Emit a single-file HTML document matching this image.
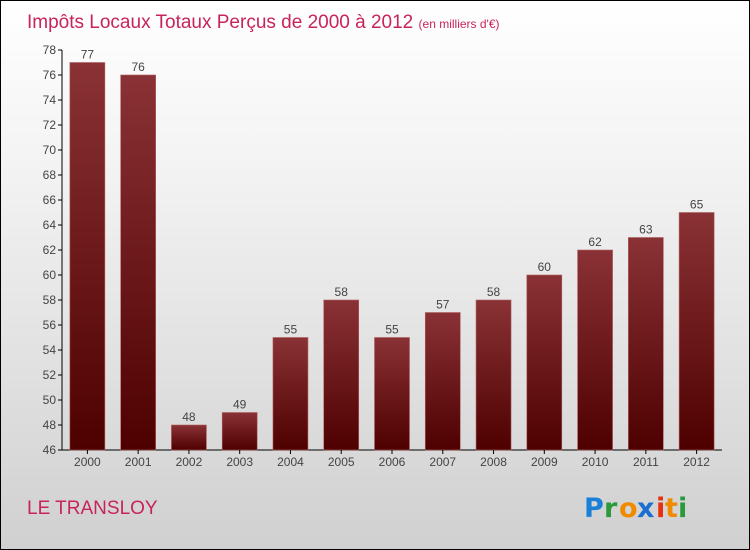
<!DOCTYPE html>
<html><head><meta charset="utf-8"><style>
body{margin:0}
#c{position:relative;width:748px;height:548px;border:1px solid #000;background:linear-gradient(#fff,#f3f3f3 30%,#d0d0d0);font-family:"Liberation Sans",sans-serif;overflow:hidden}
</style></head><body>
<div id="c">
<svg width="748" height="548">
<defs><linearGradient id="bg" x1="0" y1="0" x2="0" y2="1"><stop offset="0" stop-color="#8a3236"/><stop offset="1" stop-color="#4e0000"/></linearGradient></defs>
<text x="26" y="27" font-size="19" fill="#c8245a">Impôts Locaux Totaux Perçus de 2000 à 2012 <tspan font-size="12">(en milliers d'€)</tspan></text>
<g id="plot"></g>
<text x="26" y="513" font-size="19" fill="#c8245a">LE TRANSLOY</text>
<g font-size="27" font-weight="bold" font-family="'DejaVu Sans',sans-serif">
<text x="583" y="516" fill="#1a7fd6">P</text><text x="603" y="516" fill="#2a9a3a">r</text><text x="618" y="516" fill="#f08a00">o</text><text x="636" y="516" fill="#1a6fd0">x</text><text x="655" y="516" fill="#e83010">i</text><text x="664" y="516" fill="#f08a00">t</text><text x="677" y="516" fill="#2a9a3a">i</text>
</g>
</svg>
</div>
<script>
const years=["2000","2001","2002","2003","2004","2005","2006","2007","2008","2009","2010","2011","2012"];
const values=[77,76,48,49,55,58,55,57,58,60,62,63,65];
const ticks=[46,48,50,52,54,56,58,60,62,64,66,68,70,72,74,76,78];
const NS="http://www.w3.org/2000/svg";
const g=document.getElementById('plot');
const x0=61,x1=721,yTop=49,yBot=449,vMin=46,vMax=78;
const y=v=>yBot-(v-vMin)/(vMax-vMin)*(yBot-yTop);
const bw=(x1-x0)/years.length;
function mk(t,a){const e=document.createElementNS(NS,t);for(const k in a)e.setAttribute(k,a[k]);g.appendChild(e);return e;}
let ax=mk('path',{d:`M${x0} ${yTop}V${yBot}H${x1}`,stroke:'#000','stroke-width':1,fill:'none'});


ticks.forEach(t=>{
 const l=mk('line',{x1:x0-4,x2:x0,y1:y(t),y2:y(t),stroke:'#000'});
 
 
 const tx=mk('text',{x:x0-6,y:y(t)+4,'font-size':12,fill:'#444','text-anchor':'end'});
 tx.textContent=t;
 
 
});
years.forEach((yr,i)=>{
 const cx=x0+bw*(i+0.5),w=35;
 const r=mk('rect',{x:cx-w/2,y:y(values[i]),width:w,height:yBot-y(values[i]),fill:'url(#bg)',stroke:'#b06060','stroke-width':0.6});
 
 
 const v=mk('text',{x:cx,y:y(values[i])-4,'font-size':12,fill:'#444','text-anchor':'middle'});
 v.textContent=values[i];
 
 
 const tk=mk('line',{x1:cx,x2:cx,y1:yBot,y2:yBot+4,stroke:'#000'});
 
 
 const xl=mk('text',{x:cx,y:yBot+16,'font-size':12,fill:'#444','text-anchor':'middle'});
 xl.textContent=yr;
 
 
});
</script>
</body></html>
